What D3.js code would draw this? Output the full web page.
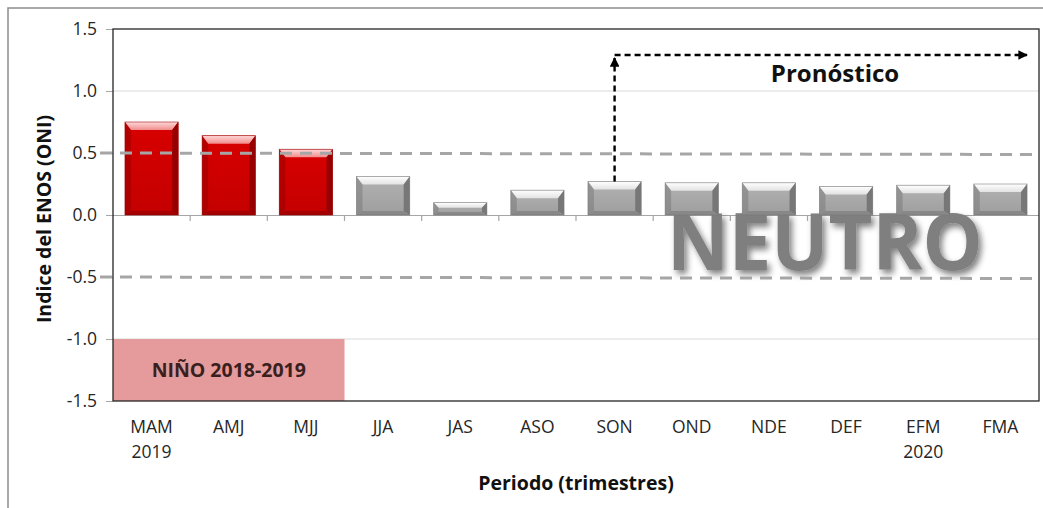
<!DOCTYPE html>
<html>
<head>
<meta charset="utf-8">
<script src="https://cdn.jsdelivr.net/npm/d3@7"></script>
<style>
  html, body { margin: 0; padding: 0; background: #fff; }
  svg { display: block; font-family: "Open Sans", "DejaVu Sans", sans-serif; }
</style>
</head>
<body>
<svg id="chart" width="1043" height="508"></svg>
<script>
// Trimestres (3-month seasons) and the year shown under some of them
const seasons = ["MAM", "AMJ", "MJJ", "JJA", "JAS", "ASO", "SON", "OND", "NDE", "DEF", "EFM", "FMA"];
const yearLabels = ["2019", "", "", "", "", "", "", "", "", "", "2020", ""];
// ONI values per season
const oniValues = [0.75, 0.64, 0.53, 0.31, 0.10, 0.20, 0.27, 0.26, 0.26, 0.23, 0.24, 0.25];
// Condition of each season (Niño observed, then neutral)
const phases = ["nino", "nino", "nino", "neutro", "neutro", "neutro", "neutro", "neutro", "neutro", "neutro", "neutro", "neutro"];
const yTicks = [-1.5, -1.0, -0.5, 0.0, 0.5, 1.0, 1.5];
const gridValues = [1.0, -1.0];
const thresholds = [0.5, -0.5];
const ninoEvent = { label: "NIÑO 2018-2019", from: "MAM", to: "MJJ", low: -1.5, high: -1.0 };
const forecastStart = "SON";

const svg = d3.select("#chart");
const plot = { left: 113, right: 1039, top: 29, bottom: 401 };

const x = d3.scaleBand().domain(seasons).range([plot.left, plot.right])
  .paddingInner(0.31).paddingOuter(0.155);
const y = d3.scaleLinear().domain([-1.5, 1.5]).range([plot.bottom, plot.top]);

const defs = svg.append("defs");

// Outer frame
svg.append("path")
  .attr("d", `M8,508 L8,8 L1043,8`)
  .attr("fill", "none").attr("stroke", "#8c8c8c").attr("stroke-width", 1.5);

// Light gridlines
svg.append("g").selectAll("line").data(gridValues).join("line")
  .attr("x1", plot.left).attr("x2", plot.right)
  .attr("y1", d => y(d)).attr("y2", d => y(d))
  .attr("stroke", "#d9d9d9").attr("stroke-width", 1.2);

// Niño event box
const ninoX0 = x(ninoEvent.from) - x.step() * x.paddingInner() / 2;
const ninoX1 = x(ninoEvent.to) + x.bandwidth() + x.step() * x.paddingInner() / 2;
svg.append("rect")
  .attr("x", ninoX0).attr("y", y(ninoEvent.high))
  .attr("width", ninoX1 - ninoX0).attr("height", y(ninoEvent.low) - y(ninoEvent.high))
  .attr("fill", "#e59a9b");
svg.append("text")
  .attr("x", (ninoX0 + ninoX1) / 2).attr("y", (y(ninoEvent.high) + y(ninoEvent.low)) / 2 + 7)
  .attr("text-anchor", "middle").attr("font-weight", "bold").attr("font-size", 19.5)
  .attr("fill", "#3a1f1f").text(ninoEvent.label);

// Y axis (plain hyphen for negatives)
const fmt = d3.format(".1f");
const yAxis = svg.append("g").attr("transform", `translate(${plot.left},0)`)
  .call(d3.axisLeft(y).tickValues(yTicks).tickFormat(d => fmt(d).replace("\u2212", "-")).tickSize(7).tickPadding(9));
yAxis.select(".domain").remove();
yAxis.selectAll(".tick line").attr("stroke", "#a6a6a6");
yAxis.selectAll(".tick text").attr("font-size", 17.5).attr("fill", "#262626")
  .attr("font-family", "'Open Sans', sans-serif");

// Zero line with category ticks
const xAxis = svg.append("g").attr("transform", `translate(0,${y(0)})`)
  .call(d3.axisBottom(x).tickSize(0).tickFormat(""));
xAxis.select(".domain").attr("stroke", "#a6a6a6").attr("stroke-width", 1.2)
  .attr("d", `M${plot.left},0.5H${plot.right}`);
const boundaries = seasons.slice(1).map(s => x(s) - x.step() * x.paddingInner() / 2);
svg.append("g").selectAll("line").data(boundaries).join("line")
  .attr("x1", d => d).attr("x2", d => d)
  .attr("y1", y(0)).attr("y2", y(0) + 6)
  .attr("stroke", "#a6a6a6").attr("stroke-width", 1.2);

// NEUTRO watermark with soft shadow
const shadow = defs.append("filter").attr("id", "softShadow")
  .attr("x", "-10%").attr("y", "-20%").attr("width", "130%").attr("height", "150%");
shadow.append("feGaussianBlur").attr("in", "SourceAlpha").attr("stdDeviation", 3).attr("result", "blur");
shadow.append("feOffset").attr("in", "blur").attr("dx", 3).attr("dy", 4).attr("result", "off");
shadow.append("feComponentTransfer").attr("in", "off").attr("result", "sh")
  .append("feFuncA").attr("type", "linear").attr("slope", 0.5);
const merge = shadow.append("feMerge");
merge.append("feMergeNode").attr("in", "sh");
merge.append("feMergeNode").attr("in", "SourceGraphic");

svg.append("text")
  .attr("x", 667).attr("y", 270)
  .attr("font-size", 78).attr("font-weight", "bold")
  .attr("textLength", 316).attr("lengthAdjust", "spacingAndGlyphs")
  .attr("fill", "#7f7f7f").attr("filter", "url(#softShadow)")
  .text("NEUTRO");

// Bevelled bars
const palette = {
  nino:   { body: ["#d80000", "#c40000"], top: "#f08c8c", topEdge: "#ffd8d8", side: "#960000", bottom: "#a40000" },
  neutro: { body: ["#b2b2b2", "#9e9e9e"], top: "#e2e2e2", topEdge: "#ffffff", side: "#777777", bottom: "#888888" }
};
Object.entries(palette).forEach(([k, p]) => {
  const g = defs.append("linearGradient").attr("id", "body-" + k)
    .attr("x1", 0).attr("y1", 0).attr("x2", 0).attr("y2", 1);
  g.append("stop").attr("offset", "0%").attr("stop-color", p.body[0]);
  g.append("stop").attr("offset", "100%").attr("stop-color", p.body[1]);
  const t = defs.append("linearGradient").attr("id", "top-" + k)
    .attr("x1", 0).attr("y1", 0).attr("x2", 0).attr("y2", 1);
  t.append("stop").attr("offset", "0%").attr("stop-color", p.topEdge);
  t.append("stop").attr("offset", "100%").attr("stop-color", p.top);
});

const bars = svg.append("g").selectAll("g").data(seasons.map((s, i) => ({ s, v: oniValues[i], ph: phases[i] })))
  .join("g");
bars.each(function(d) {
  const g = d3.select(this);
  const p = palette[d.ph];
  const x0 = x(d.s), x1 = x0 + x.bandwidth();
  const y0 = y(d.v), y1 = y(0);
  const h = y1 - y0;
  const bt = Math.min(8, h * 0.42), bs = Math.min(6, h * 0.4), bb = Math.min(4, h * 0.25);
  const poly = pts => pts.map(q => q.join(",")).join(" ");
  g.append("rect").attr("x", x0).attr("y", y0).attr("width", x1 - x0).attr("height", h)
    .attr("fill", `url(#body-${d.ph})`);
  g.append("polygon").attr("points", poly([[x0, y0], [x1, y0], [x1 - bs, y0 + bt], [x0 + bs, y0 + bt]]))
    .attr("fill", `url(#top-${d.ph})`);
  g.append("polygon").attr("points", poly([[x0, y0], [x0 + bs, y0 + bt], [x0 + bs, y1 - bb], [x0, y1]]))
    .attr("fill", p.side).attr("opacity", 0.5);
  g.append("polygon").attr("points", poly([[x1, y0], [x1 - bs, y0 + bt], [x1 - bs, y1 - bb], [x1, y1]]))
    .attr("fill", p.side);
  g.append("polygon").attr("points", poly([[x0, y1], [x0 + bs, y1 - bb], [x1 - bs, y1 - bb], [x1, y1]]))
    .attr("fill", p.bottom);
  g.append("rect").attr("x", x0).attr("y", y0).attr("width", x1 - x0).attr("height", h)
    .attr("fill", "none").attr("stroke", p.side).attr("stroke-width", 0.8).attr("opacity", 0.7);
});

// Niño / Niña thresholds
svg.append("g").selectAll("line").data(thresholds).join("line")
  .attr("x1", 100).attr("x2", plot.right)
  .attr("y1", d => y(d)).attr("y2", d => y(d) + 1.5)
  .attr("stroke", "#a6a6a6").attr("stroke-width", 3)
  .attr("stroke-dasharray", "12,8");

// Plot border
svg.append("rect")
  .attr("x", plot.left).attr("y", plot.top)
  .attr("width", plot.right - plot.left).attr("height", plot.bottom - plot.top)
  .attr("fill", "none").attr("stroke", "#262626").attr("stroke-width", 1.3);

// Forecast arrow
defs.append("marker").attr("id", "arrowHead")
  .attr("viewBox", "0 0 10 10").attr("refX", 9).attr("refY", 5)
  .attr("markerWidth", 4).attr("markerHeight", 4).attr("markerUnits", "strokeWidth")
  .attr("orient", "auto")
  .append("path").attr("d", "M0,0 L10,5 L0,10 Z").attr("fill", "#000");
const fx = x(forecastStart) + x.bandwidth() / 2;
const fIdx = seasons.indexOf(forecastStart);
const arrowY = 55;
svg.append("line")
  .attr("x1", fx).attr("y1", y(oniValues[fIdx])).attr("x2", fx).attr("y2", arrowY + 3)
  .attr("stroke", "#000").attr("stroke-width", 2.4).attr("stroke-dasharray", "6,4")
  .attr("marker-end", "url(#arrowHead)");
svg.append("line")
  .attr("x1", fx).attr("y1", arrowY).attr("x2", 1027).attr("y2", arrowY)
  .attr("stroke", "#000").attr("stroke-width", 2.4).attr("stroke-dasharray", "6,4")
  .attr("marker-end", "url(#arrowHead)");
svg.append("text")
  .attr("x", 835).attr("y", 82).attr("text-anchor", "middle")
  .attr("font-size", 24).attr("font-weight", "bold").attr("fill", "#111")
  .text("Pronóstico");

// Category labels (two lines)
const cat = svg.append("g").selectAll("text").data(seasons).join("text")
  .attr("x", d => x(d) + x.bandwidth() / 2)
  .attr("text-anchor", "middle").attr("font-size", 17.5).attr("fill", "#262626");
cat.append("tspan").attr("x", d => x(d) + x.bandwidth() / 2).attr("y", 433).text(d => d);
cat.append("tspan").attr("x", d => x(d) + x.bandwidth() / 2).attr("y", 458)
  .text((d, i) => yearLabels[i]);

// Axis titles
svg.append("text")
  .attr("x", 576).attr("y", 490).attr("text-anchor", "middle")
  .attr("font-size", 19.5).attr("font-weight", "bold").attr("fill", "#111")
  .text("Periodo (trimestres)");
svg.append("text")
  .attr("transform", `translate(51,${(plot.top + plot.bottom) / 2 + 4}) rotate(-90)`)
  .attr("text-anchor", "middle")
  .attr("font-size", 19.5).attr("font-weight", "bold").attr("fill", "#111")
  .text("Indice del ENOS (ONI)");
</script>
</body>
</html>
